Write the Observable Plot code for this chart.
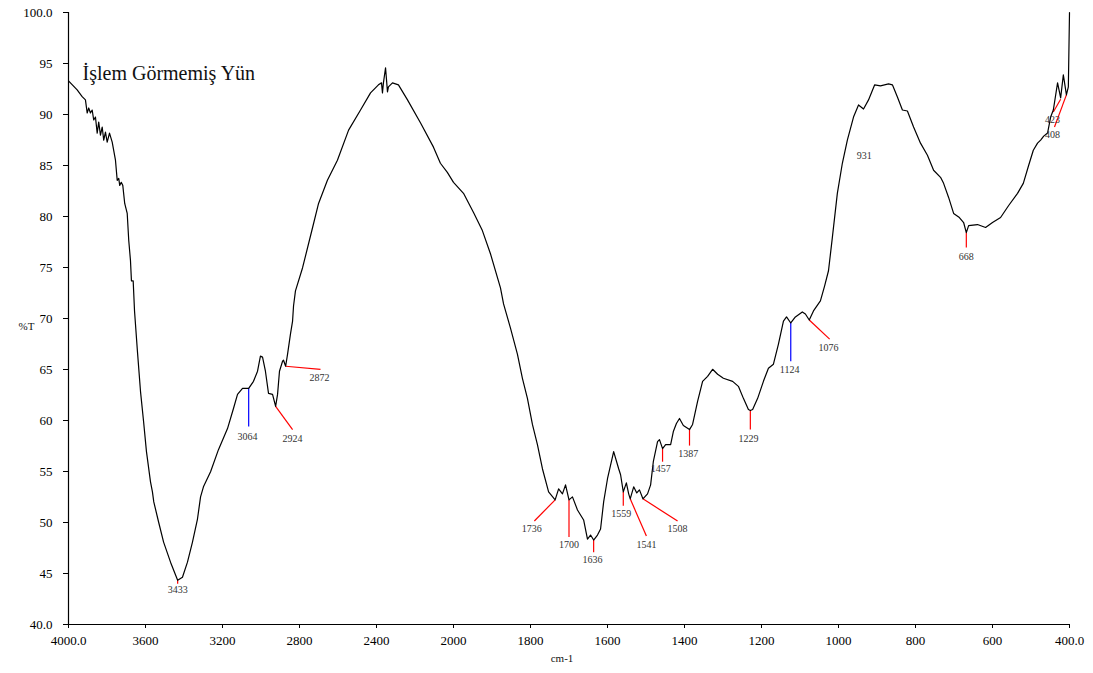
<!DOCTYPE html>
<html><head><meta charset="utf-8">
<script src="https://cdn.jsdelivr.net/npm/d3@7"></script>
<script src="https://cdn.jsdelivr.net/npm/@observablehq/plot@0.6"></script>
<style>body{margin:0;background:#fff;}</style>
</head><body><div id="chart"></div>
<script>
const title = "İşlem Görmemiş Yün";
const xLabel = "cm-1";
const yLabel = "%T";

const wavenumbers = [4000,3955,3929,3912,3903,3895,3886,3877,3869,3860,3851,3843,3834,3825,3817,3808,3799,3787,3773,3756,3747,3739,3734,3726,3718,3708,3695,3687,3678,3673,3664,3657,3642,3626,3610,3595,3574,3564,3557,3532,3506,3470,3433,3408,3382,3356,3330,3314,3299,3262,3221,3174,3143,3122,3096,3064,3039,3018,3003,2992,2977,2961,2940,2924,2914,2904,2888,2883,2872,2862,2847,2836,2831,2821,2784,2732,2701,2655,2603,2545,2483,2431,2390,2374,2369,2364,2353,2343,2338,2317,2286,2239,2171,2104,2068,2032,2000,1974,1948,1925,1904,1878,1870,1852,1834,1821,1808,1795,1782,1769,1753,1736,1727,1717,1709,1700,1691,1678,1662,1652,1644,1636,1626,1618,1610,1600,1584,1571,1566,1559,1551,1545,1541,1532,1524,1517,1508,1496,1488,1481,1470,1465,1457,1449,1436,1429,1421,1413,1403,1387,1379,1366,1353,1340,1327,1314,1299,1275,1260,1247,1234,1229,1223,1210,1195,1182,1169,1156,1143,1135,1124,1112,1094,1086,1076,1065,1047,1036,1026,1016,1003,990,977,961,948,935,922,906,891,870,860,847,834,821,805,787,769,753,735,727,714,701,686,675,668,662,639,618,600,579,558,535,520,506,494,483,475,467,457,449,442,431,423,416,408,403,400];
const transmittance = [93.30,92.41,91.75,91.43,90.15,90.64,90.15,90.44,89.46,89.75,88.18,89.26,87.98,88.77,87.49,88.28,87.29,88.18,87.29,85.52,83.55,83.74,83.05,83.35,83.05,81.28,80.30,77.64,75.67,73.69,73.69,70.74,66.80,62.86,59.90,56.95,53.99,53.00,52.02,50.05,48.08,46.11,44.33,44.63,46.11,48.08,50.34,52.51,53.50,54.98,57.14,59.21,61.18,62.56,63.15,63.15,63.84,64.83,66.31,66.21,64.83,62.66,62.56,61.38,62.56,64.83,65.81,65.91,65.32,66.50,68.47,69.75,71.23,72.71,74.98,78.92,81.28,83.55,85.52,88.47,90.44,92.12,92.91,93.10,92.12,93.10,94.58,92.22,92.71,93.10,92.91,91.43,89.16,86.80,85.22,84.33,83.35,82.27,80.39,78.62,76.35,73.00,71.43,69.06,66.50,64.14,62.17,59.61,57.64,55.27,53.00,52.22,53.30,52.81,53.69,52.22,52.51,51.23,50.25,48.37,48.77,48.28,48.77,49.36,52.02,54.29,56.95,55.27,54.68,53.00,53.89,52.81,52.32,53.50,52.90,53.20,52.32,52.81,53.69,55.96,57.93,58.13,57.24,57.64,57.64,58.92,59.70,60.20,59.51,59.11,59.61,61.87,63.84,64.33,65.02,64.53,64.14,63.84,63.35,62.17,61.08,60.98,61.08,62.17,63.84,65.12,65.52,67.49,69.75,70.15,69.56,70.15,70.64,70.44,69.85,70.74,71.72,73.20,74.68,77.93,82.27,85.22,87.49,89.75,90.94,90.54,91.43,92.91,92.81,93.00,92.91,91.72,90.44,90.34,88.77,87.19,86.01,84.53,83.84,83.25,81.87,80.30,79.90,79.41,78.42,79.11,79.21,78.92,79.41,79.90,81.08,82.27,83.25,85.02,86.50,87.19,87.49,87.88,88.18,89.75,90.44,93.10,91.63,93.89,91.92,92.71,100.0];

// peak marker lines: from the peak on the curve to the label
const markNames = ["3433","3064","2924","2872","1736","1700","1636","1559","1541","1508","1457","1387","1229","1124","1076","668","423","408"];
const markPeakWn = [3433,3064,2924,2872,1736,1700,1636,1559,1541,1508,1457,1387,1229,1124,1076,668,423,408];
const markPeakT = [44.33,63.15,61.38,65.32,52.22,52.22,48.28,53.00,52.32,52.32,57.24,59.11,60.98,69.56,69.85,78.42,91.50,91.92];
const markEndWn = [3433,3064,2836,2691,1790,1700,1636,1559,1499,1418,1457,1387,1229,1124,1023,668,442,439];
const markEndT = [44.00,59.41,59.11,65.02,50.15,48.57,47.09,51.63,48.67,50.15,55.96,57.54,59.11,65.81,67.98,76.95,90.25,88.77];
const bluePeaks = ["3064","1124"];

// peak labels
const labelText = ["3433","3064","2924","2872","1736","1700","1636","1559","1541","1508","1457","1387","1229","1124","1076","668","423","408","931"];
const labelWn = [3433,3070,2836,2696,1797,1700,1639,1564,1499,1418,1462,1390,1234,1127,1026,668,444,444,933];
const labelT = [43.45,58.42,58.23,64.14,49.36,47.78,46.31,50.84,47.78,49.36,55.27,56.75,58.23,64.93,67.09,76.06,89.46,87.98,85.91];

// axis: two scale regions (4000–2000 in steps of 400, 2000–400 in steps of 200), each tick interval equal width
const xTicks = [4000,3600,3200,2800,2400,2000,1800,1600,1400,1200,1000,800,600,400];
const yTicks = [40,45,50,55,60,65,70,75,80,85,90,95,100];

const spectrum = wavenumbers.map((w, i) => ({w, t: transmittance[i]}));
const marks = markNames.map((n, i) => ({n, w1: markPeakWn[i], t1: markPeakT[i], w2: markEndWn[i], t2: markEndT[i]}));
const labels = labelText.map((n, i) => ({n, w: labelWn[i], t: labelT[i]}));

const serif = "'Liberation Serif', 'Times New Roman', serif";
const W = 1093, ML = 68, MR = 24;
const xRange = xTicks.map((_, i) => ML + i * (W - ML - MR) / (xTicks.length - 1));

const chart = Plot.plot({
  width: W,
  height: 673,
  marginLeft: ML,
  marginRight: MR,
  marginTop: 12,
  marginBottom: 49,
  style: {fontFamily: serif, fontSize: "13px", color: "#000", background: "#fff"},
  x: {
    type: "linear",
    domain: xTicks,
    range: xRange,
    ticks: xTicks,
    tickFormat: d => (d === 4000 || d === 400) ? d.toFixed(1) : String(d),
    tickSize: 4,
    tickPadding: 7,
    label: null
  },
  y: {
    domain: [40, 100],
    ticks: yTicks,
    tickFormat: d => (d === 40 || d === 100) ? d.toFixed(1) : String(d),
    tickSize: 5,
    tickPadding: 11,
    label: null
  },
  marks: [
    Plot.ruleX([4000], {stroke: "#000", strokeWidth: 1.2}),
    Plot.ruleY([40], {stroke: "#000", strokeWidth: 1.2}),
    Plot.link(marks, {x1: "w1", y1: "t1", x2: "w2", y2: "t2",
      stroke: d => bluePeaks.includes(d.n) ? "#0000ff" : "#ff0000", strokeWidth: 1.2}),
    Plot.line(spectrum, {x: "w", y: "t", stroke: "#000", strokeWidth: 1.2}),
    Plot.text(labels, {x: "w", y: "t", text: "n", fontSize: 10, fill: "#333", fontFamily: serif}),
    Plot.text([title], {text: d => d, frameAnchor: "top-left", dx: 14, dy: 53, textAnchor: "start", fontSize: 20, fill: "#111", fontFamily: serif}),
    Plot.text([yLabel], {text: d => d, frameAnchor: "left", dx: -50, dy: 8, fontSize: 11, fill: "#111", fontFamily: serif}),
    Plot.text([xLabel], {text: d => d, frameAnchor: "bottom", dx: -7, dy: 37, fontSize: 11, fill: "#111", fontFamily: serif})
  ]
});
document.getElementById("chart").appendChild(chart);
</script>
</body></html>
